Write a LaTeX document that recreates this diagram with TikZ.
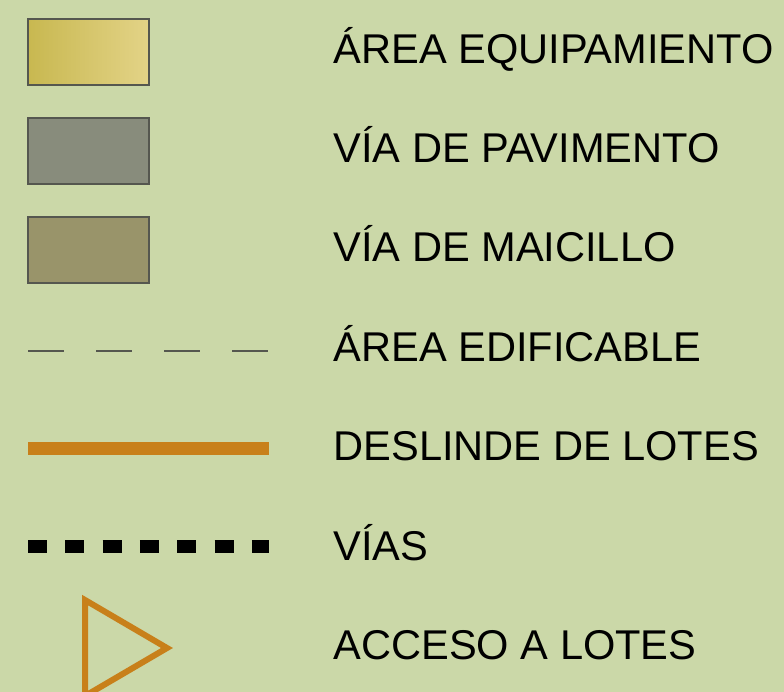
\documentclass[tikz,border=0pt]{standalone}
\usepackage{fontspec}
\setmainfont{Liberation Sans}
\usepackage{tikz}

\definecolor{fondo}{HTML}{CBD8A8}
\definecolor{equipA}{HTML}{C8B850}
\definecolor{equipB}{HTML}{E3D387}
\definecolor{pavim}{HTML}{888C7C}
\definecolor{maici}{HTML}{99946A}
\definecolor{borde}{HTML}{55574F}
\definecolor{naranjo}{HTML}{C8801A}

\tikzset{
  swatch/.style={draw=borde, line width=1.5pt},
  etiqueta/.style={anchor=base west, inner sep=0pt, font=\fontsize{41.6}{44}\selectfont}
}

\begin{document}
\begin{tikzpicture}[x=1pt, y=-1pt, line width=1pt]

  % Page size
  \def\W{784}
  \def\H{692}

  % Background
  \fill[fondo] (0,0) rectangle (\W,\H);
  \useasboundingbox (0,0) rectangle (\W,\H);
  \clip (0,0) rectangle (\W,\H);

  % Symbol column and text column
  \def\XA{28}
  \def\XB{149}
  \def\XC{269}
  \def\XT{333}

  % Filled swatches
  \shade[swatch, left color=equipA, right color=equipB] (\XA,19) rectangle (\XB,85);
  \filldraw[swatch, fill=pavim] (\XA,118) rectangle (\XB,184);
  \filldraw[swatch, fill=maici] (\XA,217) rectangle (\XB,283);

  % Building area (dashed)
  \draw[borde, line width=1.6pt, dash pattern=on 36pt off 32pt] (\XA,351) -- (\XC,351);

  % Lot boundary
  \draw[naranjo, line width=13pt] (\XA,448.5) -- (\XC,448.5);

  % Roads (square dots)
  \draw[black, line width=13pt, dash pattern=on 19pt off 18.33pt] (\XA,546) -- (\XC,546);

  % Lot access
  \draw[naranjo, line width=6pt, miter limit=10] (85,600) -- (167,648) -- (85,696) -- cycle;

  % Labels
  \foreach \name/\y/\txt in {eq/64/ÁREA EQUIPAMIENTO, pav/163/VÍA DE PAVIMENTO,
      mai/262/VÍA DE MAICILLO, edif/361/ÁREA EDIFICABLE, desl/460/DESLINDE DE LOTES,
      vias/560/VÍAS, acc/659/ACCESO A LOTES} {
    \node[etiqueta] (\name) at (\XT,\y) {\txt};
  }

\end{tikzpicture}
\end{document}
